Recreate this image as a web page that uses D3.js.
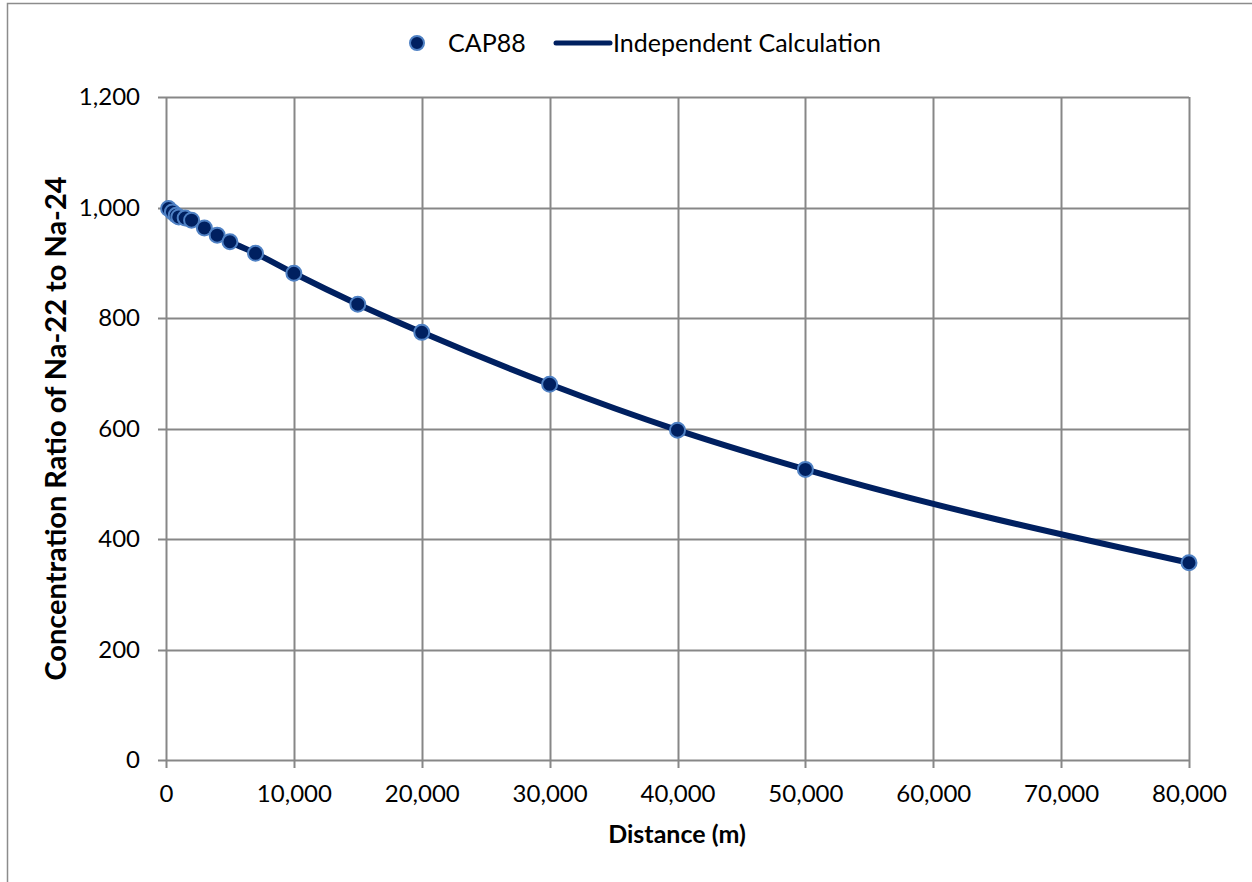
<!DOCTYPE html>
<html>
<head>
<meta charset="utf-8">
<script src="https://cdnjs.cloudflare.com/ajax/libs/d3/7.8.5/d3.min.js"></script>
<style>
  html, body { margin: 0; padding: 0; background: #fff; }
  svg { display: block; }
  text { font-family: Lato, "Open Sans", sans-serif; fill: #000; }
</style>
</head>
<body>
<svg id="chart" width="1252" height="882"></svg>
<script>
// ---- data ----
const cap88Distance = [200, 500, 800, 1000, 1500, 2000, 3000, 4000, 5000, 7000, 10000, 15000, 20000, 30000, 40000, 50000, 80000];
const cap88Ratio    = [998, 992, 986, 983, 981, 977, 963, 950, 938, 917, 881, 825, 774, 680, 597, 526, 357];
const calcDistance  = [200, 500, 800, 1000, 1500, 2000, 3000, 4000, 5000, 7000, 10000, 15000, 20000, 30000, 40000, 50000, 80000];
const calcRatio     = [998, 992, 986, 983, 981, 977, 963, 950, 938, 917, 881, 825, 774, 680, 597, 526, 357];
const xTicks = [0, 10000, 20000, 30000, 40000, 50000, 60000, 70000, 80000];
const yTicks = [0, 200, 400, 600, 800, 1000, 1200];
const seriesNames = ["CAP88", "Independent Calculation"];
const xTitle = "Distance (m)";
const yTitle = "Concentration Ratio of Na-22 to Na-24";

// ---- layout ----
const svg = d3.select("#chart");
const plotLeft = 166, plotRight = 1189, plotTop = 97, plotBottom = 760;
const x = d3.scaleLinear().domain([0, 80000]).range([plotLeft, plotRight]);
const y = d3.scaleLinear().domain([0, 1200]).range([plotBottom, plotTop]);
const fmt = d3.format(",");
const gridColor = "#878787";
const navy = "#002060";
const markerStroke = "#4f81c4";

// chart border
svg.append("rect").attr("x", 7.5).attr("y", 3.5).attr("width", 1300).attr("height", 1000)
  .attr("fill", "none").attr("stroke", "#8c8c8c").attr("stroke-width", 1.5);

// gridlines
svg.append("g").selectAll("line").data(yTicks).join("line")
  .attr("x1", plotLeft - 8).attr("x2", plotRight)
  .attr("y1", d => Math.round(y(d)) + 0.5).attr("y2", d => Math.round(y(d)) + 0.5)
  .attr("stroke", gridColor).attr("stroke-width", 2);
svg.append("g").selectAll("line").data(xTicks).join("line")
  .attr("y1", plotTop).attr("y2", plotBottom + 8)
  .attr("x1", d => Math.round(x(d)) + 0.5).attr("x2", d => Math.round(x(d)) + 0.5)
  .attr("stroke", gridColor).attr("stroke-width", 2);

// axes tick labels via d3 axes
const xAxis = d3.axisBottom(x).tickValues(xTicks).tickFormat(fmt).tickSize(0).tickPadding(25);
const gx = svg.append("g").attr("transform", `translate(0,${plotBottom})`).call(xAxis);
gx.select(".domain").remove();
gx.selectAll("text").attr("font-size", 24).attr("font-family", "Lato, sans-serif").attr("fill", "#000");

const yAxis = d3.axisLeft(y).tickValues(yTicks).tickFormat(fmt).tickSize(0).tickPadding(26);
const gy = svg.append("g").attr("transform", `translate(${plotLeft},0)`).call(yAxis);
gy.select(".domain").remove();
gy.selectAll("text").attr("font-size", 24).attr("font-family", "Lato, sans-serif").attr("fill", "#000");

// axis titles
svg.append("text").attr("x", 677).attr("y", 843).attr("text-anchor", "middle")
  .attr("font-size", 25).attr("font-weight", "bold").text(xTitle);
svg.append("text").attr("transform", `translate(66,${(plotTop + plotBottom) / 2}) rotate(-90)`)
  .attr("text-anchor", "middle").attr("font-size", 29).attr("font-weight", "bold").text(yTitle);

// line
const calcData = calcDistance.map((d, i) => [d, calcRatio[i]]);
const line = d3.line().x(d => x(d[0])).y(d => y(d[1])).curve(d3.curveMonotoneX);
svg.append("path").datum(calcData).attr("d", line)
  .attr("fill", "none").attr("stroke", navy).attr("stroke-width", 6).attr("stroke-linejoin", "round");

// markers
const capData = cap88Distance.map((d, i) => [d, cap88Ratio[i]]);
svg.append("g").selectAll("circle").data(capData).join("circle")
  .attr("cx", d => x(d[0])).attr("cy", d => y(d[1])).attr("r", 7.5)
  .attr("fill", navy).attr("stroke", markerStroke).attr("stroke-width", 2);

// legend
const lg = svg.append("g");
lg.append("circle").attr("cx", 417).attr("cy", 43).attr("r", 7)
  .attr("fill", navy).attr("stroke", markerStroke).attr("stroke-width", 2);
lg.append("text").attr("x", 448).attr("y", 52).attr("font-size", 25).text(seriesNames[0]);
lg.append("line").attr("x1", 556).attr("x2", 610).attr("y1", 43).attr("y2", 43)
  .attr("stroke", navy).attr("stroke-width", 5).attr("stroke-linecap", "round");
lg.append("text").attr("x", 613).attr("y", 52).attr("font-size", 25).text(seriesNames[1]);
</script>
</body>
</html>
